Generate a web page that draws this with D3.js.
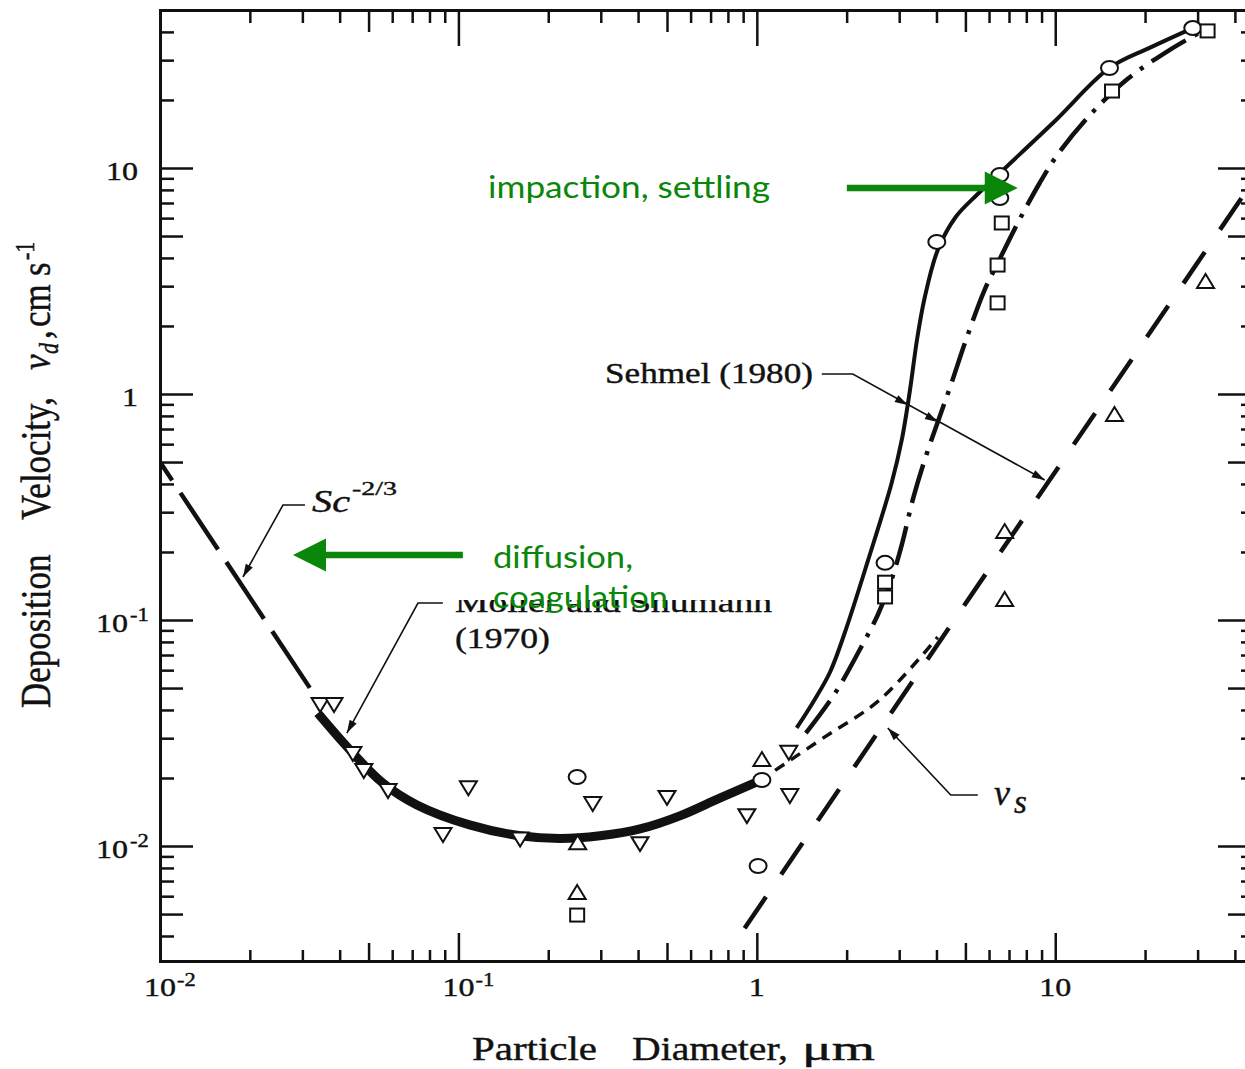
<!DOCTYPE html>
<html>
<head>
<meta charset="utf-8">
<script src="https://cdn.jsdelivr.net/npm/d3@7"></script>
<style>
  html, body { margin: 0; padding: 0; background: #fff; }
  svg { display: block; }
  .serif { font-family: "Liberation Serif", "Times New Roman", serif; fill: #111; stroke: #111; stroke-width: 0.4; }
  .green { font-family: Lato, "Open Sans", sans-serif; fill: #0a870a; }
</style>
</head>
<body>
<svg id="chart" width="1245" height="1069"></svg>
<script>
// curves: [diameter um, deposition velocity cm/s]
const scLine = [[0.01, 0.5], [0.0318, 0.05]];
const mollerCurve = [[0.0338, 0.0387], [0.0433, 0.0266], [0.0558, 0.019], [0.0726, 0.0152], [0.109, 0.0124], [0.161, 0.0111], [0.219, 0.0108], [0.298, 0.0111], [0.406, 0.0119], [0.552, 0.0136], [0.751, 0.0163], [1.02, 0.0194]];
const mollerExtension = [[1.02, 0.0194], [1.69, 0.0304], [2.58, 0.0443], [4.04, 0.0841]];
const sehmelSolid = [[1.36, 0.0333], [1.56, 0.0443], [1.76, 0.0589], [1.97, 0.0876], [2.36, 0.184], [2.83, 0.404], [3.06, 0.626], [3.26, 1.04], [3.44, 1.73], [3.65, 2.66], [4.04, 4.34], [4.64, 6.07], [5.5, 7.67], [6.52, 9.5], [9.96, 16.1], [15.2, 27.7], [20.7, 34.0], [28.9, 41.6]];
const sehmelDashDot = [[1.46, 0.0316], [1.83, 0.0475], [2.21, 0.0737], [2.54, 0.105], [2.79, 0.143], [3.06, 0.215], [3.33, 0.34], [3.65, 0.51], [4.04, 0.752], [4.43, 1.06], [5.05, 1.77], [5.8, 2.89], [6.42, 3.8], [7.49, 5.71], [8.87, 8.58], [10.2, 11.5], [13.1, 17.2], [17.5, 24.8], [24.2, 33.3], [32.4, 41.6]];
const settlingLine = [[0.91, 0.00433], [43.2, 7.74]];

// measured points
const circleData = [[0.25, 0.0202], [1.04, 0.0196], [1.01, 0.00816], [2.69, 0.179], [4.01, 4.71], [6.52, 9.31], [6.52, 7.36], [15.2, 27.7], [28.9, 41.6]];
const squareData = [[0.25, 0.00495], [2.69, 0.147], [2.69, 0.1265], [6.41, 2.53], [6.41, 3.72], [6.62, 5.71], [15.5, 21.9], [32.4, 40.4]];
const upTriangleData = [[1.04, 0.024], [0.251, 0.0103], [0.25, 0.0062], [6.77, 0.245], [6.77, 0.1226], [15.8, 0.807], [31.9, 3.13]];
const downTriangleData = [[0.0344, 0.0425], [0.0383, 0.0425], [0.0443, 0.0258], [0.0482, 0.0217], [0.0581, 0.0177], [0.0888, 0.0113], [0.108, 0.0182], [0.161, 0.0108], [0.282, 0.0155], [0.406, 0.0103], [0.5, 0.0165], [0.926, 0.0137], [1.28, 0.0261], [1.29, 0.0168]];

// tick labels
const xLabelValues = [0.01, 0.1, 1, 10];
const xLabelBase = ['10', '10', '1', '10'];
const xLabelExp = ['-2', '-1', '', ''];
const yLabelValues = [0.01, 0.1, 1, 10];
const yLabelBase = ['10', '10', '1', '10'];
const yLabelExp = ['-2', '-1', '', ''];

// annotation leaders, in data space
const scLeader = [[0.0306, 0.3227], [0.02583, 0.3227], [0.01897, 0.155]];
const mollerLeader = [[0.0887, 0.1189], [0.0732, 0.1189], [0.0423, 0.0316]];
const sehmelLeader = [[1.651, 1.226], [2.097, 1.226], [9.222, 0.4165]];
const sehmelTips = [[3.205, 0.894], [4.042, 0.752], [9.222, 0.4165]];
const vsLeader = [[5.501, 0.01681], [4.466, 0.01681], [2.747, 0.0333]];
const impactionArrow = [[2.003, 8.155], [7.487, 8.155]];
const diffusionArrow = [[0.1035, 0.194], [0.0279, 0.194]];

const plot = {left: 160, right: 1253, top: 10, bottom: 961};
const svg = d3.select('#chart');

const x = d3.scaleLog().domain([0.01, 46]).range([plot.left, plot.right]);
const y = d3.scaleLog().domain([0.0031, 50]).range([plot.bottom, plot.top]);
const px = d => [x(d[0]), y(d[1])];

svg.append('defs').append('clipPath').attr('id', 'clip')
  .append('rect').attr('x', plot.left).attr('y', plot.top)
  .attr('width', plot.right - plot.left).attr('height', plot.bottom - plot.top);

// axes
const mant = v => Math.round(v / Math.pow(10, Math.floor(Math.log10(v) + 1e-9)));
const tickLen = (v, big, mid, small) => mant(v) === 1 ? big : (mant(v) === 5 ? mid : small);

function styleAxis(g) {
  g.selectAll('text').remove();
  g.select('.domain').attr('stroke', '#111').attr('stroke-width', 3).attr('stroke-linecap', 'square');
  g.selectAll('.tick line').attr('stroke', '#111').attr('stroke-width', 2.5);
}

svg.append('g').attr('transform', `translate(0,${plot.bottom})`)
  .call(d3.axisBottom(x).tickValues(x.ticks()).tickSizeOuter(0).tickFormat(''))
  .call(styleAxis)
  .call(g => g.selectAll('.tick line').attr('y2', d => -tickLen(d, 28, 18, 11)));

svg.append('g').attr('transform', `translate(0,${plot.top})`)
  .call(d3.axisTop(x).tickValues(x.ticks()).tickSizeOuter(0).tickFormat(''))
  .call(styleAxis)
  .call(g => g.selectAll('.tick line').attr('y2', d => tickLen(d, 36, 22, 13)));

svg.append('g').attr('transform', `translate(${plot.left},0)`)
  .call(d3.axisLeft(y).tickValues(y.ticks()).tickSizeOuter(0).tickFormat(''))
  .call(styleAxis)
  .call(g => g.selectAll('.tick line').attr('x2', d => tickLen(d, 33, 23, 14)));

svg.append('g').attr('transform', `translate(${plot.right},0)`)
  .call(d3.axisRight(y).tickValues(y.ticks()).tickSizeOuter(0).tickFormat(''))
  .call(styleAxis)
  .call(g => g.selectAll('.tick line').attr('x2', d => -tickLen(d, 35, 25, 12)));

function addText(g, str, tx, ty, o) {
  const t = g.append('text').attr('class', o.cls || 'serif')
    .attr('x', tx).attr('y', ty).attr('font-size', o.size).text(str);
  if (o.italic) t.attr('font-style', 'italic');
  if (o.anchor) t.attr('text-anchor', o.anchor);
  if (o.width) t.attr('textLength', o.width).attr('lengthAdjust', 'spacingAndGlyphs');
  else if (o.sx) t.attr('textLength', t.node().getComputedTextLength() * o.sx).attr('lengthAdjust', 'spacingAndGlyphs');
  return t;
}

const labels = svg.append('g');
xLabelValues.forEach((v, i) => {
  addText(labels, xLabelBase[i], x(v), 996, {size: 25, anchor: 'middle', sx: 1.28});
  if (xLabelExp[i]) addText(labels, xLabelExp[i], x(v) + 17, 986, {size: 18, sx: 1.25});
});
yLabelValues.forEach((v, i) => {
  if (yLabelExp[i]) {
    addText(labels, yLabelBase[i], 128, y(v) + 12, {size: 25, anchor: 'end', sx: 1.28});
    addText(labels, yLabelExp[i], 130, y(v) + 1, {size: 18, sx: 1.25});
  } else {
    addText(labels, yLabelBase[i], 138, y(v) + 12, {size: 25, anchor: 'end', sx: 1.28});
  }
});

// axis titles
addText(labels, 'Particle', 472, 1060, {size: 34, width: 125});
addText(labels, 'Diameter,', 632, 1060, {size: 34, width: 156});
addText(labels, 'μm', 802, 1060, {size: 34, width: 73});

const yTitle = svg.append('g').attr('transform', 'translate(50,708) rotate(-90) scale(1,1.2)')
  .append('text').attr('class', 'serif').attr('font-size', 35);
yTitle.append('tspan').attr('x', 0).attr('y', 0).text('Deposition');
yTitle.append('tspan').attr('x', 188).attr('y', 0).text('Velocity,');
yTitle.append('tspan').attr('x', 338).attr('y', 0).attr('font-style', 'italic').text('v');
yTitle.append('tspan').attr('x', 354).attr('y', 7).attr('font-style', 'italic').attr('font-size', 22).text('d');
yTitle.append('tspan').attr('x', 369).attr('y', 0).text(',');
yTitle.append('tspan').attr('x', 381).attr('y', 0).text('cm');
yTitle.append('tspan').attr('x', 432).attr('y', 0).text('s');
yTitle.append('tspan').attr('x', 448).attr('y', -13).attr('font-size', 22).text('-1');

// curves
const plotArea = svg.append('g').attr('clip-path', 'url(#clip)');
const line = d3.line().x(d => x(d[0])).y(d => y(d[1])).curve(d3.curveCatmullRom.alpha(0.5));

function drawCurve(data, width, dash, offset) {
  const p = plotArea.append('path').datum(data).attr('d', line)
    .attr('fill', 'none').attr('stroke', '#111').attr('stroke-width', width);
  if (dash) p.attr('stroke-dasharray', dash).attr('stroke-dashoffset', offset || 0);
  return p;
}

drawCurve(scLine, 4.5, '68,15', 46);
drawCurve(mollerCurve, 9);
drawCurve(mollerExtension, 3.5, '11,8');
drawCurve(sehmelSolid, 4);
drawCurve(sehmelDashDot, 4.5, '40,10,4,10');
drawCurve(settlingLine, 4.5, '38,27', 0);

// markers
const marks = svg.append('g').attr('fill', '#fff').attr('stroke', '#111').attr('stroke-width', 2);
marks.selectAll('.circ').data(circleData).join('ellipse').attr('class', 'circ')
  .attr('cx', d => x(d[0])).attr('cy', d => y(d[1])).attr('rx', 8.5).attr('ry', 7);
marks.selectAll('.sq').data(squareData).join('rect').attr('class', 'sq')
  .attr('x', d => x(d[0]) - 7).attr('y', d => y(d[1]) - 6.5).attr('width', 14).attr('height', 13);
marks.selectAll('.up').data(upTriangleData).join('path').attr('class', 'up')
  .attr('transform', d => `translate(${x(d[0])},${y(d[1])})`).attr('d', 'M0,-8L8.5,6L-8.5,6Z');
marks.selectAll('.down').data(downTriangleData).join('path').attr('class', 'down')
  .attr('transform', d => `translate(${x(d[0])},${y(d[1])})`).attr('d', 'M0,8L8.5,-6L-8.5,-6Z');

// annotations
const notes = svg.append('g');
const straight = d3.line().x(d => x(d[0])).y(d => y(d[1]));

function arrowHead(g, tip, from, len, half, color) {
  const a = Math.atan2(tip[1] - from[1], tip[0] - from[0]);
  const bx = tip[0] - len * Math.cos(a), by = tip[1] - len * Math.sin(a);
  const nx = -Math.sin(a) * half, ny = Math.cos(a) * half;
  g.append('path').attr('d', `M${tip[0]},${tip[1]}L${bx + nx},${by + ny}L${bx - nx},${by - ny}Z`)
    .attr('fill', color).attr('stroke', 'none');
}

function leader(pts, tips) {
  notes.append('path').datum(pts).attr('d', straight)
    .attr('fill', 'none').attr('stroke', '#111').attr('stroke-width', 1.6);
  const n = pts.length;
  (tips || [pts[n - 1]]).forEach(t => arrowHead(notes, px(t), px(pts[n - 2]), 13, 4, '#111'));
}

leader(scLeader);
leader(mollerLeader);
leader(sehmelLeader, sehmelTips);
leader(vsLeader);

addText(notes, 'Sc', 312, 512, {size: 31, italic: true, width: 38});
addText(notes, '-2/3', 352, 495, {size: 19, width: 45});
addText(notes, 'Sehmel (1980)', 605, 383, {size: 29, width: 208});
addText(notes, 'Moller and Shumann', 455, 612, {size: 29, width: 317});
addText(notes, '(1970)', 455, 648, {size: 29, width: 95});
addText(notes, 'v', 994, 805, {size: 36, italic: true});
addText(notes, 's', 1014, 813, {size: 33, italic: true});

// green overlay
const green = svg.append('g');
green.append('rect').attr('x', 450).attr('y', 528).attr('width', 340).attr('height', 72).attr('fill', '#fff');

function greenArrow(pts) {
  const a = px(pts[0]), b = px(pts[1]);
  const dir = Math.sign(b[0] - a[0]);
  green.append('line').attr('x1', a[0]).attr('y1', a[1]).attr('x2', b[0] - dir * 31).attr('y2', b[1])
    .attr('stroke', '#0a870a').attr('stroke-width', 6.5);
  arrowHead(green, b, a, 33, 16.5, '#0a870a');
}
greenArrow(impactionArrow);
greenArrow(diffusionArrow);

addText(green, 'impaction, settling', 488, 198, {cls: 'green', size: 31, width: 282});
addText(green, 'diffusion,', 493, 568, {cls: 'green', size: 31, width: 140});
addText(green, 'coagulation', 493, 608, {cls: 'green', size: 31, width: 175});
</script>
</body>
</html>
